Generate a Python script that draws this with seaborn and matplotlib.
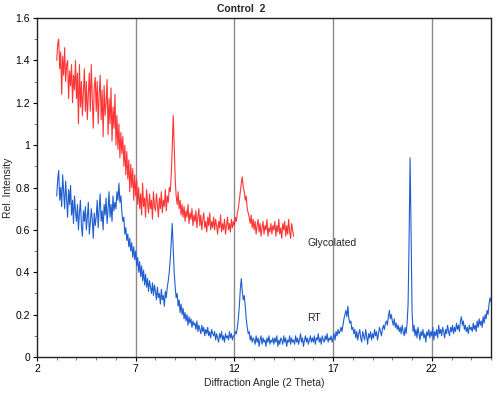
import numpy as np
import pandas as pd
import matplotlib
matplotlib.use("Agg")
import matplotlib.pyplot as plt
from matplotlib.ticker import MultipleLocator
import seaborn as sns

# scan angles (2 theta), 0.05 degree steps
rt_angle = np.round(np.linspace(3.0, 25.0, 441), 2)
gly_angle = np.round(np.linspace(3.0, 15.0, 241), 2)

# RT intensities (one row per degree)
rt_int = [
    0.76, 0.84, 0.88, 0.74, 0.80, 0.71, 0.86, 0.78, 0.70, 0.83, 0.75, 0.66, 0.79, 0.72, 0.81, 0.67, 0.74, 0.63, 0.76, 0.69,
    0.64, 0.72, 0.60, 0.68, 0.74, 0.62, 0.57, 0.69, 0.64, 0.71, 0.60, 0.66, 0.73, 0.58, 0.63, 0.70, 0.65, 0.56, 0.68, 0.62,
    0.66, 0.74, 0.61, 0.70, 0.77, 0.64, 0.69, 0.60, 0.72, 0.67, 0.75, 0.63, 0.70, 0.78, 0.66, 0.72, 0.64, 0.76, 0.69, 0.73,
    0.70, 0.78, 0.74, 0.82, 0.73, 0.76, 0.68, 0.64, 0.66, 0.58, 0.61, 0.55, 0.58, 0.52, 0.56, 0.50, 0.54, 0.47, 0.52, 0.46,
    0.50, 0.43, 0.47, 0.40, 0.45, 0.38, 0.43, 0.36, 0.41, 0.34, 0.39, 0.33, 0.37, 0.31, 0.36, 0.33, 0.30, 0.35, 0.29, 0.34,
    0.31, 0.27, 0.33, 0.28, 0.30, 0.25, 0.32, 0.27, 0.29, 0.24, 0.31, 0.28, 0.33, 0.36, 0.40, 0.46, 0.54, 0.63, 0.52, 0.40,
    0.33, 0.28, 0.30, 0.24, 0.27, 0.21, 0.25, 0.20, 0.23, 0.18, 0.21, 0.17, 0.20, 0.15, 0.19, 0.16, 0.18, 0.14, 0.17, 0.15,
    0.16, 0.13, 0.17, 0.12, 0.15, 0.13, 0.11, 0.15, 0.12, 0.14, 0.10, 0.13, 0.11, 0.14, 0.10, 0.12, 0.09, 0.13, 0.11, 0.10,
    0.12, 0.08, 0.11, 0.09, 0.07, 0.11, 0.09, 0.12, 0.08, 0.10, 0.07, 0.11, 0.09, 0.10, 0.08, 0.12, 0.09, 0.11, 0.08, 0.10,
    0.10, 0.12, 0.11, 0.14, 0.18, 0.24, 0.32, 0.37, 0.31, 0.27, 0.29, 0.24, 0.18, 0.14, 0.11, 0.12, 0.08, 0.10, 0.07, 0.09,
    0.08, 0.06, 0.10, 0.07, 0.09, 0.05, 0.08, 0.10, 0.06, 0.09, 0.07, 0.08, 0.05, 0.09, 0.07, 0.10, 0.06, 0.08, 0.07, 0.09,
    0.06, 0.09, 0.07, 0.10, 0.05, 0.08, 0.06, 0.09, 0.08, 0.06, 0.10, 0.07, 0.09, 0.05, 0.08, 0.07, 0.10, 0.06, 0.09, 0.07,
    0.08, 0.06, 0.10, 0.07, 0.09, 0.06, 0.08, 0.11, 0.07, 0.09, 0.05, 0.08, 0.10, 0.07, 0.09, 0.06, 0.08, 0.10, 0.07, 0.09,
    0.07, 0.10, 0.06, 0.09, 0.08, 0.11, 0.07, 0.09, 0.06, 0.10, 0.08, 0.07, 0.10, 0.08, 0.11, 0.07, 0.09, 0.08, 0.10, 0.07,
    0.09, 0.11, 0.08, 0.12, 0.10, 0.13, 0.11, 0.12, 0.14, 0.12, 0.15, 0.18, 0.20, 0.22, 0.19, 0.24, 0.18, 0.16, 0.17, 0.13,
    0.14, 0.11, 0.13, 0.09, 0.12, 0.08, 0.11, 0.13, 0.09, 0.07, 0.12, 0.10, 0.08, 0.13, 0.10, 0.06, 0.11, 0.09, 0.12, 0.08,
    0.11, 0.09, 0.13, 0.10, 0.12, 0.08, 0.11, 0.14, 0.12, 0.10, 0.13, 0.15, 0.13, 0.16, 0.17, 0.15, 0.19, 0.22, 0.18, 0.20,
    0.17, 0.15, 0.18, 0.14, 0.16, 0.13, 0.15, 0.12, 0.14, 0.11, 0.15, 0.12, 0.10, 0.14, 0.11, 0.16, 0.25, 0.55, 0.94, 0.60,
    0.22, 0.12, 0.15, 0.10, 0.13, 0.09, 0.14, 0.11, 0.08, 0.12, 0.10, 0.13, 0.09, 0.11, 0.07, 0.12, 0.10, 0.13, 0.09, 0.12,
    0.10, 0.14, 0.08, 0.12, 0.10, 0.13, 0.09, 0.15, 0.11, 0.13, 0.10, 0.14, 0.12, 0.09, 0.13, 0.11, 0.15, 0.12, 0.10, 0.14,
    0.12, 0.15, 0.11, 0.14, 0.12, 0.16, 0.13, 0.15, 0.12, 0.17, 0.19, 0.15, 0.17, 0.13, 0.15, 0.12, 0.14, 0.11, 0.15, 0.13,
    0.14, 0.12, 0.16, 0.13, 0.15, 0.12, 0.17, 0.14, 0.18, 0.15, 0.17, 0.14, 0.19, 0.16, 0.20, 0.18, 0.22, 0.20, 0.25, 0.28,
    0.26,
]

# glycolated intensities (one row per degree)
gly_int = [
    1.40, 1.48, 1.50, 1.36, 1.44, 1.24, 1.42, 1.33, 1.46, 1.30, 1.38, 1.40, 1.22, 1.35, 1.28, 1.38, 1.20, 1.33, 1.26, 1.40,
    1.22, 1.34, 1.10, 1.38, 1.18, 1.30, 1.14, 1.25, 1.36, 1.16, 1.30, 1.12, 1.24, 1.34, 1.16, 1.38, 1.22, 1.08, 1.28, 1.32,
    1.16, 1.30, 1.10, 1.24, 1.33, 1.12, 1.26, 1.04, 1.28, 1.14, 1.20, 1.31, 1.05, 1.22, 1.10, 1.27, 1.02, 1.18, 1.08, 1.24,
    1.00, 1.14, 0.98, 1.10, 0.94, 1.06, 0.96, 1.04, 0.90, 1.00, 0.86, 0.97, 0.84, 0.93, 0.78, 0.91, 0.80, 0.89, 0.74, 0.86,
    0.76, 0.84, 0.72, 0.80, 0.70, 0.77, 0.67, 0.82, 0.71, 0.75, 0.66, 0.79, 0.73, 0.68, 0.77, 0.70, 0.74, 0.65, 0.78, 0.71,
    0.69, 0.77, 0.72, 0.66, 0.75, 0.70, 0.78, 0.68, 0.74, 0.71, 0.79, 0.69, 0.76, 0.73, 0.80, 0.78, 0.86, 0.98, 1.14, 1.00,
    0.84, 0.76, 0.72, 0.78, 0.70, 0.74, 0.67, 0.72, 0.66, 0.71, 0.64, 0.69, 0.66, 0.72, 0.63, 0.68, 0.65, 0.70, 0.62, 0.67,
    0.64, 0.69, 0.61, 0.66, 0.70, 0.62, 0.67, 0.60, 0.65, 0.68, 0.61, 0.64, 0.59, 0.66, 0.62, 0.68, 0.60, 0.64, 0.61, 0.66,
    0.60, 0.65, 0.62, 0.58, 0.64, 0.61, 0.67, 0.59, 0.63, 0.60, 0.65, 0.58, 0.62, 0.66, 0.60, 0.63, 0.59, 0.65, 0.61, 0.64,
    0.62, 0.66, 0.64, 0.68, 0.70, 0.74, 0.78, 0.82, 0.85, 0.80, 0.78, 0.74, 0.76, 0.70, 0.68, 0.66, 0.63, 0.67, 0.61, 0.65,
    0.60, 0.64, 0.58, 0.62, 0.65, 0.59, 0.63, 0.57, 0.61, 0.64, 0.58, 0.62, 0.60, 0.65, 0.57, 0.61, 0.59, 0.63, 0.58, 0.62,
    0.60, 0.64, 0.57, 0.62, 0.59, 0.65, 0.58, 0.61, 0.56, 0.63, 0.60, 0.64, 0.57, 0.62, 0.58, 0.65, 0.59, 0.56, 0.63, 0.60,
    0.57,
]

x_ticks = [2, 7, 12, 17, 22]
y_ticks = [0, 0.2, 0.4, 0.6, 0.8, 1, 1.2, 1.4, 1.6]
y_labels = ["0", "0.2", "0.4", "0.6", "0.8", "1", "1.2", "1.4", "1.6"]

rt = pd.DataFrame({"angle": rt_angle, "intensity": rt_int})
gly = pd.DataFrame({"angle": gly_angle, "intensity": gly_int})

sns.set_theme(style="ticks")
plt.rcParams["font.family"] = ["Liberation Sans", "DejaVu Sans"]

fig = plt.figure(figsize=(5, 3.96), dpi=100)
ax = fig.add_axes([0.074, 0.0985, 0.908, 0.856])

for g in x_ticks[1:]:
    ax.axvline(g, color="#8a8a8a", lw=1.0, zorder=1)

sns.lineplot(data=gly, x="angle", y="intensity", color="#ff3535", lw=0.8, ax=ax, zorder=3)
sns.lineplot(data=rt, x="angle", y="intensity", color="#1f5ed0", lw=0.8, ax=ax, zorder=3)

ax.set_xlim(2, 25)
ax.set_ylim(0, 1.6)
ax.set_xticks(x_ticks)
ax.set_yticks(y_ticks)
ax.set_yticklabels(y_labels)
ax.xaxis.set_minor_locator(MultipleLocator(1))
ax.yaxis.set_minor_locator(MultipleLocator(0.1))
ax.tick_params(which="major", length=3, width=0.8, labelsize=7.5, pad=2, colors="black")
ax.tick_params(which="minor", length=2, width=0.6, colors="#666666")

for s in ax.spines.values():
    s.set_color("#222222")
    s.set_linewidth(1.0)

ax.set_xlabel("Diffraction Angle (2 Theta)", fontsize=7.5, labelpad=3)
ax.set_ylabel("Rel. Intensity", fontsize=7.5, labelpad=2)

ax.text(15.72, 0.54, "Glycolated", fontsize=7.5, va="center", ha="left")
ax.text(15.67, 0.184, "RT", fontsize=7.5, va="center", ha="left")

fig.text(0.482, 0.978, "Control  2", fontsize=7.5, fontweight="bold", ha="center", va="center")

fig.savefig("out.png", dpi=100)
